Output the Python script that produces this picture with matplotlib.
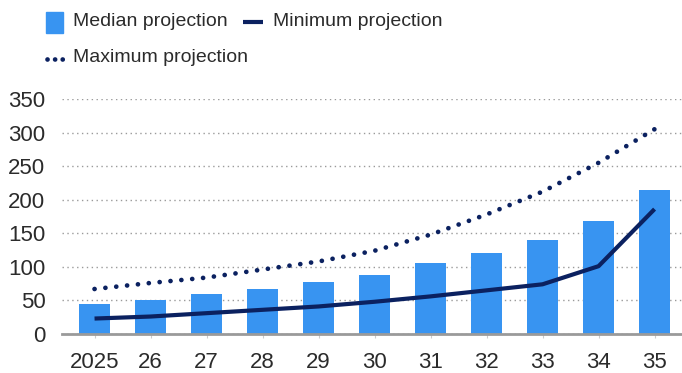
import matplotlib
matplotlib.use('Agg')
import matplotlib.pyplot as plt
from matplotlib.patches import Rectangle
from matplotlib.lines import Line2D
import numpy as np

years = ['2025', '26', '27', '28', '29', '30', '31', '32', '33', '34', '35']
median = [45, 51, 60, 67, 78, 88, 105, 121, 140, 168, 214]
minimum = [23, 26, 31, 36, 41, 48, 56, 65, 74, 101, 186]
maximum = [67, 76, 84, 96, 108, 124, 148, 178, 212, 255, 305]

plt.rcParams['font.family'] = ['Liberation Sans', 'DejaVu Sans']
bar_color = '#3894f1'
navy = '#0b2160'
txt = '#2b2b2b'
dotted = (0, (0.01, 2.3))

W, H = 682, 373
fig = plt.figure(figsize=(W / 100, H / 100), dpi=100)
ax = fig.add_axes([0.091, 0.1046, 0.909, 0.63])

x = np.arange(len(years))
ax.bar(x, median, width=0.55, color=bar_color, zorder=2)
ax.plot(x, minimum, color=navy, lw=3, solid_capstyle='butt', zorder=3)
ax.plot(x, maximum, color=navy, lw=3.4, linestyle=dotted,
        dash_capstyle='round', zorder=3)

ax.set_xlim(-0.58, 10.49)
ax.set_ylim(0, 350)
ax.set_yticks(range(0, 351, 50))
ax.set_xticks(x)
ax.set_xticklabels(years)
ax.yaxis.grid(True, linestyle=(0, (1, 2.5)), color='#9a9a9a', lw=1, zorder=0)
for s in ['top', 'right', 'left']:
    ax.spines[s].set_visible(False)
ax.spines['bottom'].set_color('#9a9a9a')
ax.spines['bottom'].set_linewidth(2)
ax.spines['bottom'].set_zorder(4)
ax.tick_params(axis='y', length=0, pad=12, labelsize=16, labelcolor=txt)
ax.tick_params(axis='x', length=3, color='#cccccc', pad=10, labelsize=16, labelcolor=txt)

# legend, placed by hand (pixel coords from top-left)
def fx(px):
    return px / W

def fy(py):
    return 1 - py / H

fig.add_artist(Rectangle((fx(46), fy(33)), 17 / W, 21 / H, color=bar_color,
                         transform=fig.transFigure))
fig.add_artist(Line2D([fx(243), fx(263)], [fy(22), fy(22)], color=navy, lw=3,
                      solid_capstyle='butt', transform=fig.transFigure))
fig.add_artist(Line2D([fx(47), fx(66)], [fy(59), fy(59)], color=navy, lw=3.4,
                      linestyle=(0, (0.01, 1.6)), dash_capstyle='round',
                      transform=fig.transFigure))
lab = dict(fontsize=14, color=txt, va='center', ha='left')
fig.text(fx(73), fy(22), 'Median projection', **lab)
fig.text(fx(273), fy(21), 'Minimum projection', **lab)
fig.text(fx(73), fy(58), 'Maximum projection', **lab)

plt.savefig('out.png', dpi=100)
